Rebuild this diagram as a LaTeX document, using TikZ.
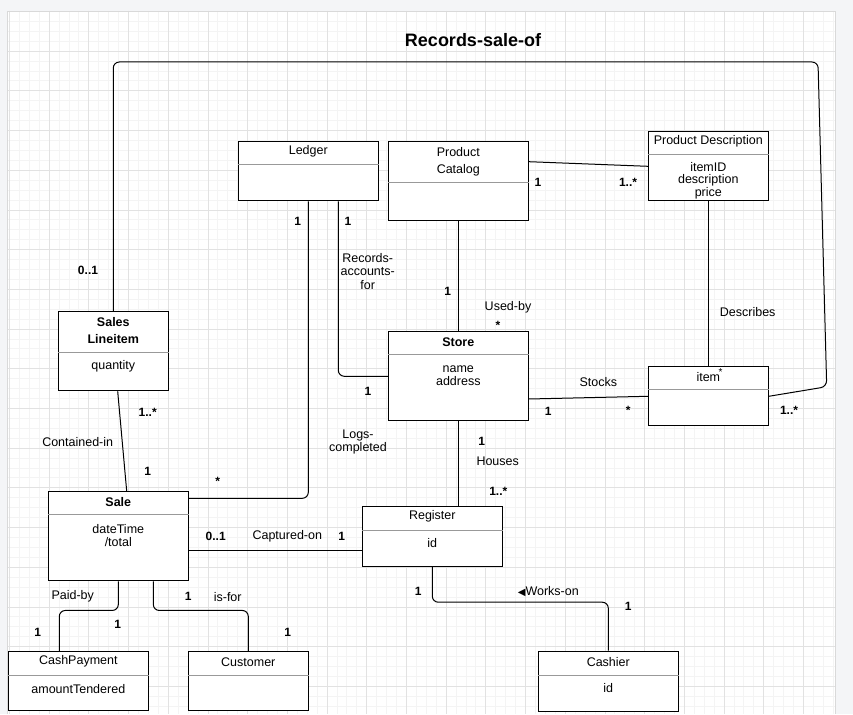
\documentclass[tikz,border=0pt]{standalone}
\usepackage{fontspec}
\setmainfont{Liberation Sans}
\newfontfamily\symfont{DejaVu Sans}
\usetikzlibrary{calc, positioning}

\definecolor{pagegray}{RGB}{244,245,247}
\definecolor{minorline}{RGB}{244,244,244}
\definecolor{majorline}{RGB}{226,226,226}

\begin{document}
\begin{tikzpicture}[x=1pt, y=-1pt,
	cls/.style={draw=black, line width=1pt, fill=white, inner sep=0pt},
	divider/.style={draw=gray!80, line width=0.8pt},
	conn/.style={draw=black, line width=1pt, rounded corners=6pt},
	txt/.style={inner sep=0pt, font=\fontsize{12.5}{14}\selectfont},
	btxt/.style={inner sep=0pt, font=\bfseries\fontsize{12.5}{14}\selectfont},
	mult/.style={inner sep=0pt, font=\bfseries\fontsize{12}{14}\selectfont}]

	% page and grid
	\fill[pagegray] (0,0) rectangle (853,714);
	\useasboundingbox (0,0) rectangle (853,714);
	\fill[white] (7.6,11) rectangle (835,714);
	\begin{scope}
		\clip (7.6,11) rectangle (835,714);
		\foreach \i in {0,...,84} \draw[minorline, line width=0.6pt] ({9.3+\i*9.925},11) -- ++(0,703);
		\foreach \j in {0,...,71} \draw[minorline, line width=0.6pt] (7.6,{11.3+\j*9.925}) -- ++(828,0);
		\foreach \i in {0,...,21} \draw[majorline, line width=0.6pt] ({9.3+\i*39.7},11) -- ++(0,703);
		\foreach \j in {0,...,18} \draw[majorline, line width=0.6pt] (7.6,{11.3+\j*39.7}) -- ++(828,0);
	\end{scope}
	\draw[gray!30, line width=0.6pt] (7.6,714) |- (835,11) -- (835,714);

	% classes
	\node[cls, minimum width=140, minimum height=59.3] (ledger) at (308.3,171.3) {};
	\node[cls, minimum width=140, minimum height=79.3] (catalog) at (458.3,181.3) {};
	\node[cls, minimum width=120, minimum height=69.3] (descr) at (708.3,166.3) {};
	\node[cls, minimum width=120, minimum height=59.3] (item) at (708.3,396.3) {};
	\node[cls, minimum width=140, minimum height=89.3] (store) at (458.3,376.3) {};
	\node[cls, minimum width=140, minimum height=60] (register) at (432.3,536.7) {};
	\node[cls, minimum width=110, minimum height=79.3] (lineitem) at (113.3,351.3) {};
	\node[cls, minimum width=140, minimum height=89.3] (sale) at (118.3,536.3) {};
	\node[cls, minimum width=140, minimum height=59.3] (cash) at (78.3,681.3) {};
	\node[cls, minimum width=120, minimum height=59.3] (customer) at (248.3,681.3) {};
	\node[cls, minimum width=140, minimum height=60] (cashier) at (608.3,681) {};

	\draw[divider] ([yshift=-23.3]ledger.north west) -- ([yshift=-23.3]ledger.north east);
	\draw[divider] ([yshift=-41.6]catalog.north west) -- ([yshift=-41.6]catalog.north east);
	\draw[divider] ([yshift=-23.3]descr.north west) -- ([yshift=-23.3]descr.north east);
	\draw[divider] ([yshift=-23.3]item.north west) -- ([yshift=-23.3]item.north east);
	\draw[divider] ([yshift=-23.3]store.north west) -- ([yshift=-23.3]store.north east);
	\draw[divider] ([yshift=-24]register.north west) -- ([yshift=-24]register.north east);
	\draw[divider] ([yshift=-41.6]lineitem.north west) -- ([yshift=-41.6]lineitem.north east);
	\draw[divider] ([yshift=-23.3]sale.north west) -- ([yshift=-23.3]sale.north east);
	\draw[divider] ([yshift=-24]cash.north west) -- ([yshift=-24]cash.north east);
	\draw[divider] ([yshift=-24]customer.north west) -- ([yshift=-24]customer.north east);
	\draw[divider] ([yshift=-24.7]cashier.north west) -- ([yshift=-24.7]cashier.north east);

	% class texts
	\node[txt] (ledger-t) at (308.3,151.7) {Ledger};
	\node[txt] (catalog-t1) at (458.3,151.7) {Product};
	\node[txt] (catalog-t2) at (458.3,170) {Catalog};
	\node[txt] (descr-t) at (708.3,141.7) {Product Description};
	\node[txt] (descr-a1) at (708.3,167.3) {itemID};
	\node[txt] (descr-a2) at (708.3,179.8) {description};
	\node[txt] (descr-a3) at (708.3,193) {price};
	\node[txt] (item-t) at (708.3,376.7) {item};
	\node[btxt] (store-t) at (458.3,341.7) {Store};
	\node[txt] (store-a1) at (458.3,369) {name};
	\node[txt] (store-a2) at (458.3,380.7) {address};
	\node[txt] (register-t) at (432.3,516.7) {Register};
	\node[txt] (register-a) at (432.3,543.3) {id};
	\node[btxt] (lineitem-t1) at (113.3,321.7) {Sales};
	\node[btxt] (lineitem-t2) at (113.3,339.3) {Lineitem};
	\node[txt] (lineitem-a) at (113.3,366.7) {quantity};
	\node[btxt] (sale-t) at (118.3,501.7) {Sale};
	\node[txt] (sale-a1) at (118.3,529) {dateTime};
	\node[txt] (sale-a2) at (118.3,542.3) {/total};
	\node[txt] (cash-t) at (78.3,661.7) {CashPayment};
	\node[txt] (cash-a) at (78.3,689) {amountTendered};
	\node[txt] (customer-t) at (248.3,661.7) {Customer};
	\node[txt] (cashier-t) at (608.3,661.7) {Cashier};
	\node[txt] (cashier-a) at (608.3,688.3) {id};

	% associations
	\draw[conn] (lineitem.north) -- (113.3,62) -- (818,62) -- (826.7,386.7) -- (item.east);
	\draw[conn] ([yshift=19.6]catalog.east) -- (descr.west);
	\draw[conn] (catalog.south) -- (store.north);
	\draw[conn] ([xshift=30]ledger.south) |- (store.west);
	\draw[conn] (ledger.south) |- ([yshift=38]sale.east);
	\draw[conn] (descr.south) -- (item.north);
	\draw[conn] ([yshift=-22.7]store.east) -- (item.west);
	\draw[conn] (store.south) -- (store.south |- register.north);
	\draw[conn] ([xshift=4.4]lineitem.south) -- ([xshift=8.4]sale.north);
	\draw[conn] ([yshift=-14.4]sale.east) -- ([yshift=-14]register.west);
	\draw[conn] (register.south) -- ++(0,35) -| (cashier.north);
	\draw[conn] (sale.south) -- ++(0,29) -| ([xshift=-19]cash.north);
	\draw[conn] ([xshift=35]sale.south) -- ++(0,29) -| (customer.north);

	% association labels
	\node[inner sep=0pt, font=\bfseries\fontsize{18}{20}\selectfont] (title) at (473,40) {Records-sale-of};
	\node[mult] (m1) at (88,270) {0..1};
	\node[mult] (m2) at (789,410) {1..*};
	\node[mult] (m3) at (538,182) {1};
	\node[mult] (m4) at (628,182) {1..*};
	\node[mult] (m5) at (447.7,291.7) {1};
	\node[txt] (usedby) at (508,307) {Used-by};
	\node[mult] (m6) at (498,325) {*};
	\node[mult] (m7) at (348,221.7) {1};
	\node[txt, align=center, font=\fontsize{12.5}{13.8}\selectfont] (recacc) at (367.7,271.5) {Records-\\accounts-\\for};
	\node[mult] (m8) at (368,391.7) {1};
	\node[mult] (m9) at (297.7,221.7) {1};
	\node[mult] (m10) at (217.7,481) {*};
	\node[txt, align=center, font=\fontsize{12.5}{13.3}\selectfont] (logs) at (358,441.7) {Logs-\\completed};
	\node[txt] (describes) at (747.7,311.7) {Describes};
	\node[inner sep=0pt, font=\fontsize{10}{12}\selectfont] (m11) at (720.5,372) {*};
	\node[txt] (stocks) at (598.3,381.7) {Stocks};
	\node[mult] (m12) at (548.3,411.3) {1};
	\node[mult] (m13) at (628.3,410.3) {*};
	\node[mult] (m14) at (481.7,441.7) {1};
	\node[txt] (houses) at (497.7,461.7) {Houses};
	\node[mult] (m15) at (498.3,491.7) {1..*};
	\node[mult] (m16) at (147.7,412.3) {1..*};
	\node[txt] (contained) at (77.7,441.7) {Contained-in};
	\node[mult] (m17) at (147.7,471.7) {1};
	\node[mult] (m18) at (215.7,536.7) {0..1};
	\node[txt] (captured) at (287.3,536.7) {Captured-on};
	\node[mult] (m19) at (341.7,536.7) {1};
	\node[mult] (m20) at (418.3,591.7) {1};
	\node[txt] (workson) at (548.3,591.7) {{\symfont\fontsize{10}{12}\selectfont\char"25C0}Works-on};
	\node[mult] (m21) at (628.3,606.7) {1};
	\node[txt] (paidby) at (72.7,596.7) {Paid-by};
	\node[mult] (m22) at (117.7,624.3) {1};
	\node[mult] (m23) at (37.7,632.3) {1};
	\node[mult] (m24) at (188.3,596.7) {1};
	\node[txt] (isfor) at (227.7,596.7) {is-for};
	\node[mult] (m25) at (287.7,632.3) {1};
\end{tikzpicture}
\end{document}
